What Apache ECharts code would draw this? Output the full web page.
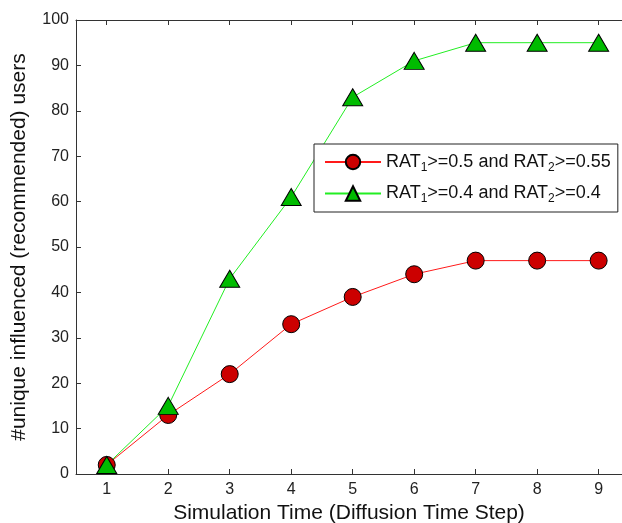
<!DOCTYPE html>
<html><head><meta charset="utf-8">
<script src="https://cdn.jsdelivr.net/npm/echarts@6/dist/echarts.min.js"></script>
<style>html,body{margin:0;padding:0;background:#fff}#c{width:622px;height:523px}</style>
</head><body><div id="c"></div>
<script>
const steps = [1, 2, 3, 4, 5, 6, 7, 8, 9];
const redValues = [2, 13, 22, 33, 39, 44, 47, 47, 47];
const greenValues = [2, 15, 43, 61, 83, 91, 95, 95, 95];
const xTicks = [1, 2, 3, 4, 5, 6, 7, 8, 9];
const yTicks = [0, 10, 20, 30, 40, 50, 60, 70, 80, 90, 100];
const redName = 'RAT{s|1}>=0.5 and RAT{s|2}>=0.55';
const greenName = 'RAT{s|1}>=0.4 and RAT{s|2}>=0.4';

const chart = echarts.init(document.getElementById('c'));
const font = 'Liberation Sans, Arial, sans-serif';
const axisCol = '#333';
chart.setOption({
  animation: false,
  grid: {left: 76, right: 0, top: 20, bottom: 49, outerBoundsMode: 'none', containLabel: false},
  xAxis: [{
    type: 'value', min: 0.5, max: 9.38,
    axisLine: {onZero: false, lineStyle: {color: axisCol, width: 1}},
    axisTick: {inside: true, length: 5, lineStyle: {color: axisCol},
      customValues: xTicks},
    axisLabel: {color: '#222', fontSize: 16, fontFamily: font, margin: 8,
      customValues: xTicks},
    splitLine: {show: false},
    name: 'Simulation Time (Diffusion Time Step)', nameLocation: 'middle', nameGap: 28,
    nameTextStyle: {color: '#111', fontSize: 21, fontFamily: font}
  }, {
    type: 'value', min: 0.5, max: 9.38, position: 'top',
    axisLine: {onZero: false, lineStyle: {color: axisCol, width: 1}},
    axisTick: {inside: true, length: 5, lineStyle: {color: axisCol}, customValues: xTicks},
    axisLabel: {show: false}, splitLine: {show: false}
  }],
  yAxis: [{
    type: 'value', min: 0, max: 100,
    axisLine: {show: true, onZero: false, lineStyle: {color: axisCol, width: 1}},
    axisTick: {show: true, inside: true, length: 5, lineStyle: {color: axisCol}, customValues: yTicks},
    axisLabel: {color: '#222', fontSize: 16, fontFamily: font, margin: 7, customValues: yTicks},
    splitLine: {show: false},
    name: '#unique influenced (recommended) users', nameLocation: 'middle', nameGap: 46,
    nameTextStyle: {color: '#111', fontSize: 21, fontFamily: font}
  }],
  legend: {
    orient: 'vertical', left: 314, top: 144,
    backgroundColor: '#fff', borderColor: '#222', borderWidth: 1,
    padding: [7, 7, 7, 10], itemWidth: 56, itemHeight: 18, itemGap: 9,
    textStyle: {color: '#111', fontSize: 18, fontFamily: font, lineHeight: 22,
      rich: {s: {fontSize: 12, fontFamily: font, color: '#111', padding: [11, 0, 0, 0]}}},
    data: [redName, greenName]
  },
  series: [{
    name: redName, type: 'line',
    data: steps.map((s, i) => [s, redValues[i]]),
    symbol: 'circle', symbolSize: 17,
    lineStyle: {color: '#ff1a1a', width: 1},
    itemStyle: {color: '#cc0000', borderColor: '#000', borderWidth: 1}
  }, {
    name: greenName, type: 'line',
    data: steps.map((s, i) => [s, greenValues[i]]),
    symbol: 'triangle', symbolSize: [20, 17],
    lineStyle: {color: '#22ee22', width: 1},
    itemStyle: {color: '#00bb00', borderColor: '#000', borderWidth: 1}
  }]
});
</script></body></html>
